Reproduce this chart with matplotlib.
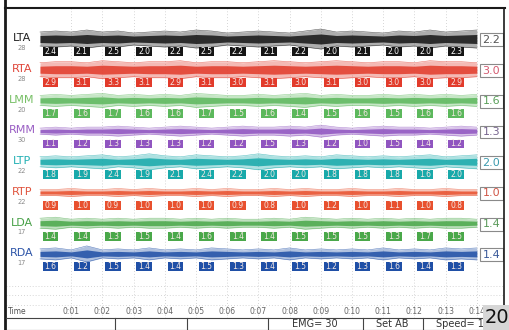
import numpy as np
import matplotlib
matplotlib.use("Agg")
import matplotlib.pyplot as plt
from matplotlib.patches import Rectangle

# channel names, small gain numbers under names, and current values (right boxes)
channels = ["LTA", "RTA", "LMM", "RMM", "LTP", "RTP", "LDA", "RDA"]
gains = ["28", "28", "20", "30", "22", "22", "17", "17"]
current = ["2.2", "3.0", "1.6", "1.3", "2.0", "1.0", "1.4", "1.4"]

# per-second values shown in the coloured boxes under each trace
lta_vals = [2.4, 2.1, 2.5, 2.0, 2.2, 2.5, 2.2, 2.1, 2.2, 2.0, 2.1, 2.0, 2.0, 2.3]
rta_vals = [2.9, 3.1, 3.3, 3.1, 2.9, 3.1, 3.0, 3.1, 3.0, 3.1, 3.0, 3.0, 3.0, 2.9]
lmm_vals = [1.7, 1.6, 1.7, 1.6, 1.6, 1.7, 1.5, 1.6, 1.4, 1.5, 1.6, 1.5, 1.6, 1.6]
rmm_vals = [1.1, 1.2, 1.3, 1.3, 1.3, 1.2, 1.2, 1.5, 1.3, 1.2, 1.0, 1.5, 1.4, 1.2]
ltp_vals = [1.8, 1.9, 2.4, 1.9, 2.1, 2.4, 2.2, 2.0, 2.0, 1.8, 1.8, 1.8, 1.6, 2.0]
rtp_vals = [0.9, 1.0, 0.9, 1.0, 1.0, 1.0, 0.9, 0.8, 1.0, 1.2, 1.0, 1.1, 1.0, 0.8]
lda_vals = [1.4, 1.4, 1.3, 1.5, 1.4, 1.6, 1.4, 1.4, 1.5, 1.5, 1.5, 1.3, 1.7, 1.5]
rda_vals = [1.6, 1.2, 1.5, 1.4, 1.4, 1.5, 1.3, 1.4, 1.5, 1.2, 1.3, 1.6, 1.4, 1.3]
box_vals = [lta_vals, rta_vals, lmm_vals, rmm_vals, ltp_vals, rtp_vals, lda_vals, rda_vals]

# rough signal envelope (half height) read every 0.5 s along each trace
env_t = [i * 0.5 for i in range(29)]
lta_env = [7, 8, 7, 9, 7, 8, 6, 7, 8, 7, 9, 8, 6, 7, 8, 7, 6, 8, 10, 7, 8, 7, 6, 8, 7, 9, 7, 8, 9]
rta_env = [7, 8, 8, 7, 9, 8, 7, 8, 8, 9, 7, 8, 8, 7, 8, 9, 8, 7, 8, 9, 8, 7, 8, 8, 7, 9, 8, 8, 7]
lmm_env = [5, 6, 5, 6, 7, 5, 6, 5, 6, 5, 7, 6, 5, 5, 6, 5, 6, 7, 5, 6, 5, 5, 6, 5, 6, 5, 6, 5, 6]
rmm_env = [3, 4, 3, 4, 4, 5, 4, 3, 4, 5, 4, 3, 4, 5, 4, 4, 5, 4, 6, 4, 3, 4, 5, 4, 4, 3, 4, 5, 4]
ltp_env = [5, 6, 5, 6, 7, 5, 6, 8, 6, 5, 7, 6, 5, 6, 8, 6, 5, 6, 5, 7, 6, 5, 6, 5, 6, 7, 5, 6, 7]
rtp_env = [3, 3, 4, 3, 3, 4, 3, 4, 3, 3, 4, 3, 4, 3, 3, 4, 3, 4, 3, 3, 4, 3, 3, 4, 3, 3, 4, 3, 3]
lda_env = [5, 6, 4, 5, 4, 5, 4, 5, 5, 4, 5, 4, 5, 4, 4, 5, 4, 6, 5, 4, 5, 4, 5, 4, 5, 4, 5, 5, 4]
rda_env = [5, 6, 4, 8, 4, 5, 4, 6, 4, 5, 4, 6, 5, 4, 5, 4, 6, 4, 5, 4, 5, 4, 6, 4, 5, 4, 6, 5, 6]
envelopes = [lta_env, rta_env, lmm_env, rmm_env, ltp_env, rtp_env, lda_env, rda_env]

time_labels = ["0:%02d" % s for s in range(1, 15)]

trace_colors = ["#151515", "#e23b2b", "#5cb85c", "#9055c0", "#18a9aa", "#e8502e", "#4aa84a", "#1f4fa6"]
label_colors = ["#222222", "#e0463a", "#78c067", "#9a5fc4", "#22b0b4", "#e0553e", "#47a047", "#2e55a8"]
right_colors = ["#555555", "#d45a70", "#5aa05a", "#77658f", "#3a9aae", "#d05545", "#5a9a5a", "#3a5a9a"]

fig = plt.figure(figsize=(5.1, 3.3), dpi=100)
fig.patch.set_facecolor("white")

W, H = 510.0, 330.0
row_px = 30.7
ax = fig.add_axes([6 / W, (H - 318) / H, 498 / W, 310 / H])
x0_px, sec_px = 40.0, 31.2
ax.set_xlim((6 - x0_px) / sec_px, (504 - x0_px) / sec_px)
ax.set_ylim((318 - 39) / row_px, (8 - 39) / row_px)
ax.set_xticks([])
ax.set_yticks([])
for s in ax.spines.values():
    s.set_visible(False)

# faint dotted grid
for k in range(1, 15):
    ax.axvline(k, color="#c8c8c8", lw=0.6, ls=(0, (1, 2.5)), zorder=0)
for yy in [8.05, 8.35, 8.65]:
    ax.axhline(yy, color="#c8c8c8", lw=0.6, ls=(0, (1, 2.5)), zorder=0)

scale = 1.0 / row_px
for i, name in enumerate(channels):
    env = np.array(envelopes[i]) * scale
    c = trace_colors[i]
    ax.fill_between(env_t, i - env, i + env, color=c, alpha=0.35, lw=0, zorder=2)
    ax.fill_between(env_t, i - 0.5 * env, i + 0.5 * env, color=c, alpha=0.85, lw=0, zorder=3)
    ax.plot(env_t, i + env, color=c, lw=0.4, alpha=0.7, zorder=3)
    ax.plot(env_t, i - env, color=c, lw=0.4, alpha=0.7, zorder=3)

    ax.text(-0.58, i - 0.02, name, color=label_colors[i], fontsize=8,
            ha="center", va="center")
    ax.text(-0.58, i + 0.3, gains[i], color="#8a8a8a", fontsize=4.8,
            ha="center", va="center")

    for k, v in enumerate(box_vals[i]):
        cx = 0.34 + k
        ax.add_patch(Rectangle((cx - 0.25, i + 0.42 - 0.145), 0.5, 0.29,
                               facecolor=c, edgecolor="none", zorder=4))
        ax.text(cx, i + 0.42, "%.1f" % v, color="white" if i == 0 else "#f4e8e4",
                fontsize=5.5, ha="center", va="center", zorder=5)

    ax.add_patch(Rectangle(((480 - x0_px) / sec_px, i + 0.03 - 0.21), 23 / sec_px, 0.42,
                           facecolor="white", edgecolor="#8a8a8a", lw=0.8, zorder=5))
    ax.text((491.5 - x0_px) / sec_px, i + 0.03, current[i], color=right_colors[i],
            fontsize=8, ha="center", va="center", zorder=6)

ty = (311 - 39) / row_px
ax.text((8 - x0_px) / sec_px, ty, "Time", color="#555555", fontsize=5.5, ha="left", va="center")
for k, lab in enumerate(time_labels):
    ax.text(k + 1, ty, lab, color="#666666", fontsize=5.5, ha="center", va="center")

# frame and status bar (figure pixel coordinates)
def fx(p):
    return p / W

def fy(p):
    return 1 - p / H

tr = fig.transFigure
fig.add_artist(plt.Line2D([fx(5.5), fx(5.5)], [fy(0), fy(330)], color="#1a1a1a", lw=2.0, transform=tr))
fig.add_artist(plt.Line2D([fx(5), fx(505)], [fy(7.5), fy(7.5)], color="#1a1a1a", lw=1.5, transform=tr))
fig.add_artist(plt.Line2D([fx(504), fx(504)], [fy(7.5), fy(305)], color="#1a1a1a", lw=1.2, transform=tr))
fig.add_artist(plt.Line2D([fx(6), fx(483)], [fy(318), fy(318)], color="#444444", lw=0.8, transform=tr))
fig.add_artist(plt.Line2D([fx(6), fx(483)], [fy(329.5), fy(329.5)], color="#444444", lw=0.8, transform=tr))
for sx in [115, 187, 268, 363, 423]:
    fig.add_artist(plt.Line2D([fx(sx), fx(sx)], [fy(318), fy(330)], color="#444444", lw=0.8, transform=tr))

fig.text(fx(315), fy(324), "EMG= 30", color="#333333", fontsize=7, ha="center", va="center")
fig.text(fx(392), fy(324), "Set AB", color="#333333", fontsize=7, ha="center", va="center")
fig.text(fx(436), fy(324), "Speed= 1", color="#333333", fontsize=7, ha="left", va="center")

fig.add_artist(Rectangle((fx(483), fy(330)), fx(27), 25 / H, facecolor="#d6d6d6",
                         edgecolor="none", transform=tr, zorder=10))
fig.text(fx(496.5), fy(317.5), "20", color="#111111", fontsize=14, ha="center", va="center", zorder=11)

fig.savefig("out.png", dpi=100)
